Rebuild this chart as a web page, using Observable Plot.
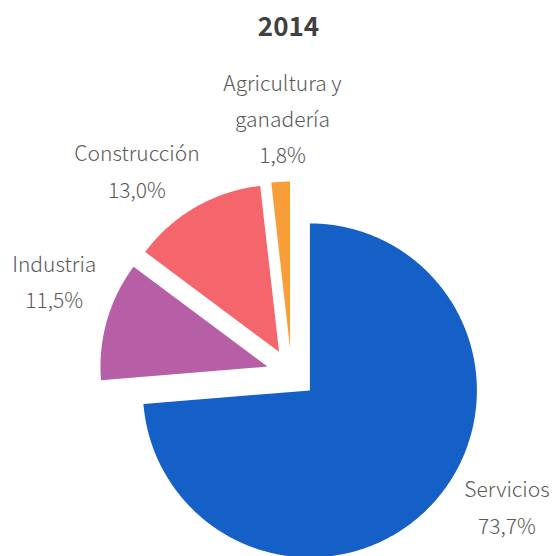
<!DOCTYPE html>
<html>
<head>
<meta charset="utf-8">
<script src="https://cdn.jsdelivr.net/npm/d3@7"></script>
<script src="https://cdn.jsdelivr.net/npm/@observablehq/plot@0.6"></script>
<style>
  html, body { margin: 0; padding: 0; background: #fff; }
  #title { height: 50px; line-height: 50px; text-align: center; padding-left: 24px; box-sizing: border-box;
           font-family: "Noto Sans CJK JP", sans-serif; font-weight: bold; font-size: 26px; color: #404040; width: 553px; }
  #chart svg { display: block; }
</style>
</head>
<body>
<div id="title">2014</div>
<div id="chart"></div>
<script>
// ---- data ----
const categories = ["Servicios", "Industria", "Construcción", "Agricultura y\nganadería"];
const values = [73.7, 11.5, 13.0, 1.8];
const colors = ["#1560C6", "#B75FA6", "#F4666B", "#F79E3A"];

// ---- layout ----
const W = 553, H = 506;
const R = 167;               // pie radius in px
const cx = 291, cy = 323;    // pie centre in svg px
const explode = 25 / R;      // explosion distance (radius units)
const labelR = 254 / R;      // label distance (radius units)
const labelAngleShift = [-10.7, 4.9, -7.6, 1.2]; // degrees, to avoid overlaps

const total = d3.sum(values);
const rad = Math.PI / 180;
let acc = 0;
const slices = categories.map((c, i) => {
  const a0 = acc / total * 360;
  acc += values[i];
  const a1 = acc / total * 360;
  return {cat: c, value: values[i], a0, a1, mid: (a0 + a1) / 2, i};
});

// polygon points for each slice (angles clockwise from north, y downwards)
const pts = [];
for (const s of slices) {
  const ox = explode * Math.sin(s.mid * rad), oy = -explode * Math.cos(s.mid * rad);
  pts.push({cat: s.cat, x: ox, y: oy});
  const n = Math.max(4, Math.ceil((s.a1 - s.a0) / 0.5));
  for (let k = 0; k <= n; k++) {
    const a = (s.a0 + (s.a1 - s.a0) * k / n) * rad;
    pts.push({cat: s.cat, x: ox + Math.sin(a), y: oy - Math.cos(a)});
  }
  pts.push({cat: s.cat, x: ox, y: oy});
}

const fmt = v => v.toFixed(1).replace(".", ",") + "%";
const labels = slices.map(s => {
  const a = (s.mid + labelAngleShift[s.i]) * rad;
  return {cat: s.cat, x: labelR * Math.sin(a), y: -labelR * Math.cos(a), text: s.cat + "\n" + fmt(s.value)};
});

const chart = Plot.plot({
  width: W, height: H,
  margin: 0,
  x: {domain: [-cx / R, (W - cx) / R], range: [0, W], axis: null},
  y: {domain: [-cy / R, (H - cy) / R], range: [0, H], axis: null},
  color: {domain: categories, range: colors},
  style: {fontFamily: "'Noto Sans CJK JP', sans-serif", background: "white"},
  marks: [
    Plot.line(pts, {x: "x", y: "y", z: "cat", fill: "cat", stroke: "none", curve: "linear"}),
    Plot.text(labels, {x: "x", y: "y", dy: -4, text: "text", fontSize: 21, fontWeight: 300, lineHeight: 1.72, fill: "#595959", textAnchor: "middle"})
  ]
});
document.getElementById("chart").appendChild(chart);
</script>
</body>
</html>
